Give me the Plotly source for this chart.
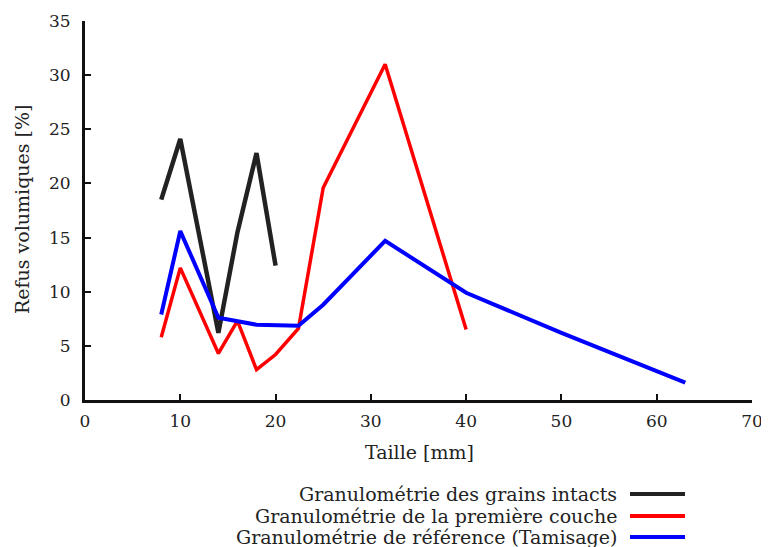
import plotly.graph_objects as go

# Data (sizes in mm, volumetric retained in %)
x_intacts = [8, 10, 14, 16, 18, 20]
y_intacts = [18.5, 24.1, 6.2, 15.5, 22.8, 12.4]

x_couche = [8, 10, 14, 16, 18, 20, 22.4, 25, 31.5, 40]
y_couche = [5.8, 12.2, 4.3, 7.3, 2.8, 4.2, 6.6, 19.6, 31.0, 6.5]

x_ref = [8, 10, 14, 18, 22.4, 25, 31.5, 40, 50, 63]
y_ref = [7.9, 15.6, 7.6, 6.95, 6.85, 8.8, 14.7, 9.9, 6.2, 1.6]

names = ["Granulométrie des grains intacts",
         "Granulométrie de la première couche",
         "Granulométrie de référence (Tamisage)"]
colors = ["#222222", "#ff0000", "#0000ff"]
widths = [4.5, 3.5, 4]

x_ticks = [0, 10, 20, 30, 40, 50, 60, 70]
y_ticks = [0, 5, 10, 15, 20, 25, 30, 35]

FONT = "DejaVu Serif, Liberation Serif, serif"
TXT = "#222222"

# page offset (body margin) compensation
OFF = 8
W, H = 769 - OFF, 547 - OFF
L, R, T, B = 85 - OFF, 752 - OFF, 21 - OFF, 400 - OFF
PW, PH = R - L, B - T


def px(xp):
    return (xp - OFF - L) / PW


def py(yp):
    return (B - (yp - OFF)) / PH


fig = go.Figure()
for xs, ys, n, c, w in zip([x_intacts, x_couche, x_ref], [y_intacts, y_couche, y_ref],
                           names, colors, widths):
    fig.add_trace(go.Scatter(x=xs, y=ys, mode="lines", name=n, showlegend=False,
                             line=dict(color=c, width=w)))

# Manual legend (text on the left, line sample on the right)
leg_y = [494, 516, 537]
for n, c, yy in zip(names, colors, leg_y):
    fig.add_annotation(xref="paper", yref="paper", x=px(619), y=py(yy),
                       text=n, showarrow=False, xanchor="right", yanchor="middle",
                       font=dict(family=FONT, size=19, color=TXT))
    fig.add_shape(type="line", xref="paper", yref="paper",
                  x0=px(630), x1=px(685), y0=py(yy), y1=py(yy),
                  line=dict(color=c, width=4))

# Axis titles
fig.add_annotation(xref="paper", yref="paper", x=px(419), y=py(452),
                   text="Taille [mm]", showarrow=False, xanchor="center", yanchor="middle",
                   font=dict(family=FONT, size=19, color=TXT))
fig.add_annotation(xref="paper", yref="paper", x=px(22), y=py(209),
                   text="Refus volumiques [%]", showarrow=False, textangle=-90,
                   xanchor="center", yanchor="middle",
                   font=dict(family=FONT, size=19, color=TXT))

fig.update_layout(
    width=W, height=H,
    margin=dict(l=L, r=W - R, t=T, b=H - B),
    plot_bgcolor="white", paper_bgcolor="white",
    font=dict(family=FONT, size=17, color=TXT),
)
fig.update_xaxes(range=[0, 70], tickvals=x_ticks, ticks="inside", ticklen=6, tickwidth=2,
                 tickcolor="#111111", showline=True, linecolor="#111111", linewidth=3,
                 showgrid=False, zeroline=False, automargin=False, ticklabelstandoff=4,
                 tickfont=dict(size=17))
fig.update_yaxes(range=[0, 35], tickvals=y_ticks, ticks="inside", ticklen=6, tickwidth=2,
                 tickcolor="#111111", showline=True, linecolor="#111111", linewidth=3,
                 showgrid=False, zeroline=False, automargin=False, ticklabelstandoff=8,
                 tickfont=dict(size=17))

fig.write_html("out.html")
